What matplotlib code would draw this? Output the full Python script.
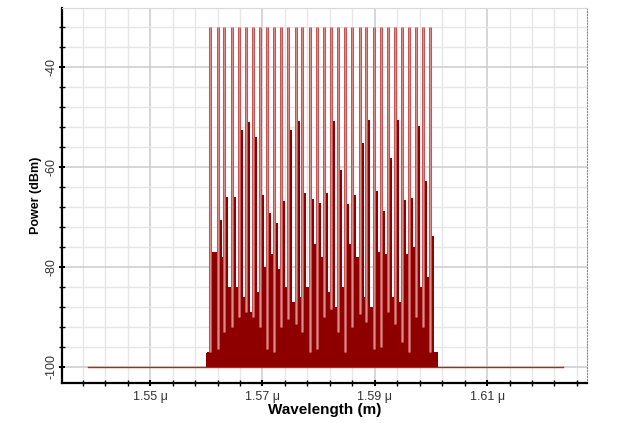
import numpy as np
import matplotlib
matplotlib.use("Agg")
from matplotlib import pyplot as plt
from matplotlib.ticker import FixedLocator, FuncFormatter

plt.rcParams['font.family'] = ['Liberation Sans', 'DejaVu Sans']

# channel wavelengths (um)
channels = [1.5607, 1.5620, 1.5632, 1.5645, 1.5658, 1.5670, 1.5683, 1.5696,
            1.5708, 1.5721, 1.5733, 1.5746, 1.5759, 1.5771, 1.5784, 1.5797,
            1.5809, 1.5822, 1.5835, 1.5847, 1.5860, 1.5873, 1.5885, 1.5898,
            1.5911, 1.5923, 1.5936, 1.5948, 1.5961, 1.5974, 1.5986, 1.5999]
channel_peak = -32.0

# FWM product right after each channel (dBm)
fwm_peak = [-77.0, -70.6, -66.0, -66.0, -52.6, -51.0, -54.0, -65.6,
            -69.2, -71.2, -66.8, -52.6, -50.8, -65.2, -66.4, -67.2,
            -65.3, -50.9, -60.7, -67.5, -65.6, -55.3, -50.7, -64.8,
            -68.9, -58.3, -50.6, -66.7, -66.3, -51.8, -62.8, -73.9]
# lower shoulder in the rest of each gap
fwm_shoulder = [-77.0, -78.0, -84.0, -84.0, -86.0, -89.0, -85.0, -80.0,
                -77.5, -80.5, -84.0, -87.0, -86.0, -84.0, -75.5, -78.0,
                -85.0, -88.0, -84.0, -75.5, -78.0, -86.0, -88.0, -77.0,
                -77.5, -86.0, -87.0, -77.5, -76.0, -84.0, -82.0, -97.0]
# noise floor under each channel line
floor = [-97.0, -96.5, -93.0, -92.0, -90.0, -89.0, -90.0, -92.0,
         -96.5, -97.0, -92.0, -90.5, -91.5, -93.0, -97.0, -96.5,
         -90.0, -88.5, -93.0, -97.0, -92.0, -89.5, -91.0, -96.5,
         -96.0, -89.0, -91.5, -95.0, -97.0, -90.0, -92.0, -97.0]

band_start, band_end, band_level = 1.5600, 1.6006, -97.3
base_start, base_end, base_level = 1.5389, 1.6236, -100.0

dark = '#8e0000'
pale = '#c45555'

fig = plt.figure(figsize=(6.29, 4.23), dpi=100)
ax = fig.add_axes([0.0986, 0.0946, 0.8347, 0.8865])

d = channels[1] - channels[0]
ch = np.array(channels)

ax.plot([base_start, base_end], [base_level, base_level], color='#c02020', lw=1.0, zorder=2)
ax.bar(band_start, band_level - base_level, bottom=base_level, width=band_end - band_start,
       align='edge', color=dark, lw=0, zorder=3)
ax.bar(ch, np.array(floor) - base_level, bottom=base_level, width=d, align='center',
       color=dark, lw=0, zorder=3)
ax.bar(ch, np.array(fwm_shoulder) - base_level, bottom=base_level, width=d,
       align='edge', color=dark, lw=0, zorder=3)
ax.bar(ch, np.array(fwm_peak) - base_level, bottom=base_level, width=0.55 * d,
       align='edge', color=dark, lw=0, zorder=4)
ax.vlines(ch, floor, channel_peak, color=pale, lw=2.2, zorder=5)
ax.vlines(ch, floor, channel_peak, color='#e2a6a6', lw=0.5, zorder=6)

ax.set_xlim(1.5343, 1.6278)
ax.set_ylim(-103.2, -28.2)

ax.xaxis.set_major_locator(FixedLocator([1.55, 1.57, 1.59, 1.61]))
ax.xaxis.set_minor_locator(FixedLocator(np.arange(1.538, 1.627, 0.004)))
ax.yaxis.set_major_locator(FixedLocator([-100, -80, -60, -40]))
ax.yaxis.set_minor_locator(FixedLocator(np.arange(-100, -28, 4)))
ax.xaxis.set_major_formatter(FuncFormatter(lambda v, p: '%.2f \u03bc' % v))
ax.yaxis.set_major_formatter(FuncFormatter(lambda v, p: '%d' % v))

ax.grid(which='minor', color='#e6e6e6', lw=1.0, zorder=0)
ax.grid(which='major', color='#cfcfcf', lw=1.2, zorder=0)
ax.set_axisbelow(True)

ax.tick_params(axis='both', which='major', direction='inout', length=5, width=1.5,
               labelsize=9, colors='black', labelcolor='#333333')
ax.tick_params(axis='both', which='minor', direction='inout', length=4, width=1.0)
ax.tick_params(axis='x', pad=3)
ax.tick_params(axis='y', pad=1)
for lab in ax.get_yticklabels():
    lab.set_rotation(90)
    lab.set_va('center')

for s in ['left', 'bottom']:
    ax.spines[s].set_linewidth(1.6)
    ax.spines[s].set_color('black')
ax.spines['top'].set_color('#d8d8d8')
ax.spines['right'].set_color('#888888')
ax.spines['right'].set_linestyle(':')

ax.set_xlabel('Wavelength (m)', fontsize=11, fontweight='bold', labelpad=0)
ax.set_ylabel('Power (dBm)', fontsize=9, fontweight='bold', labelpad=2)

fig.savefig('out.png', dpi=100)
